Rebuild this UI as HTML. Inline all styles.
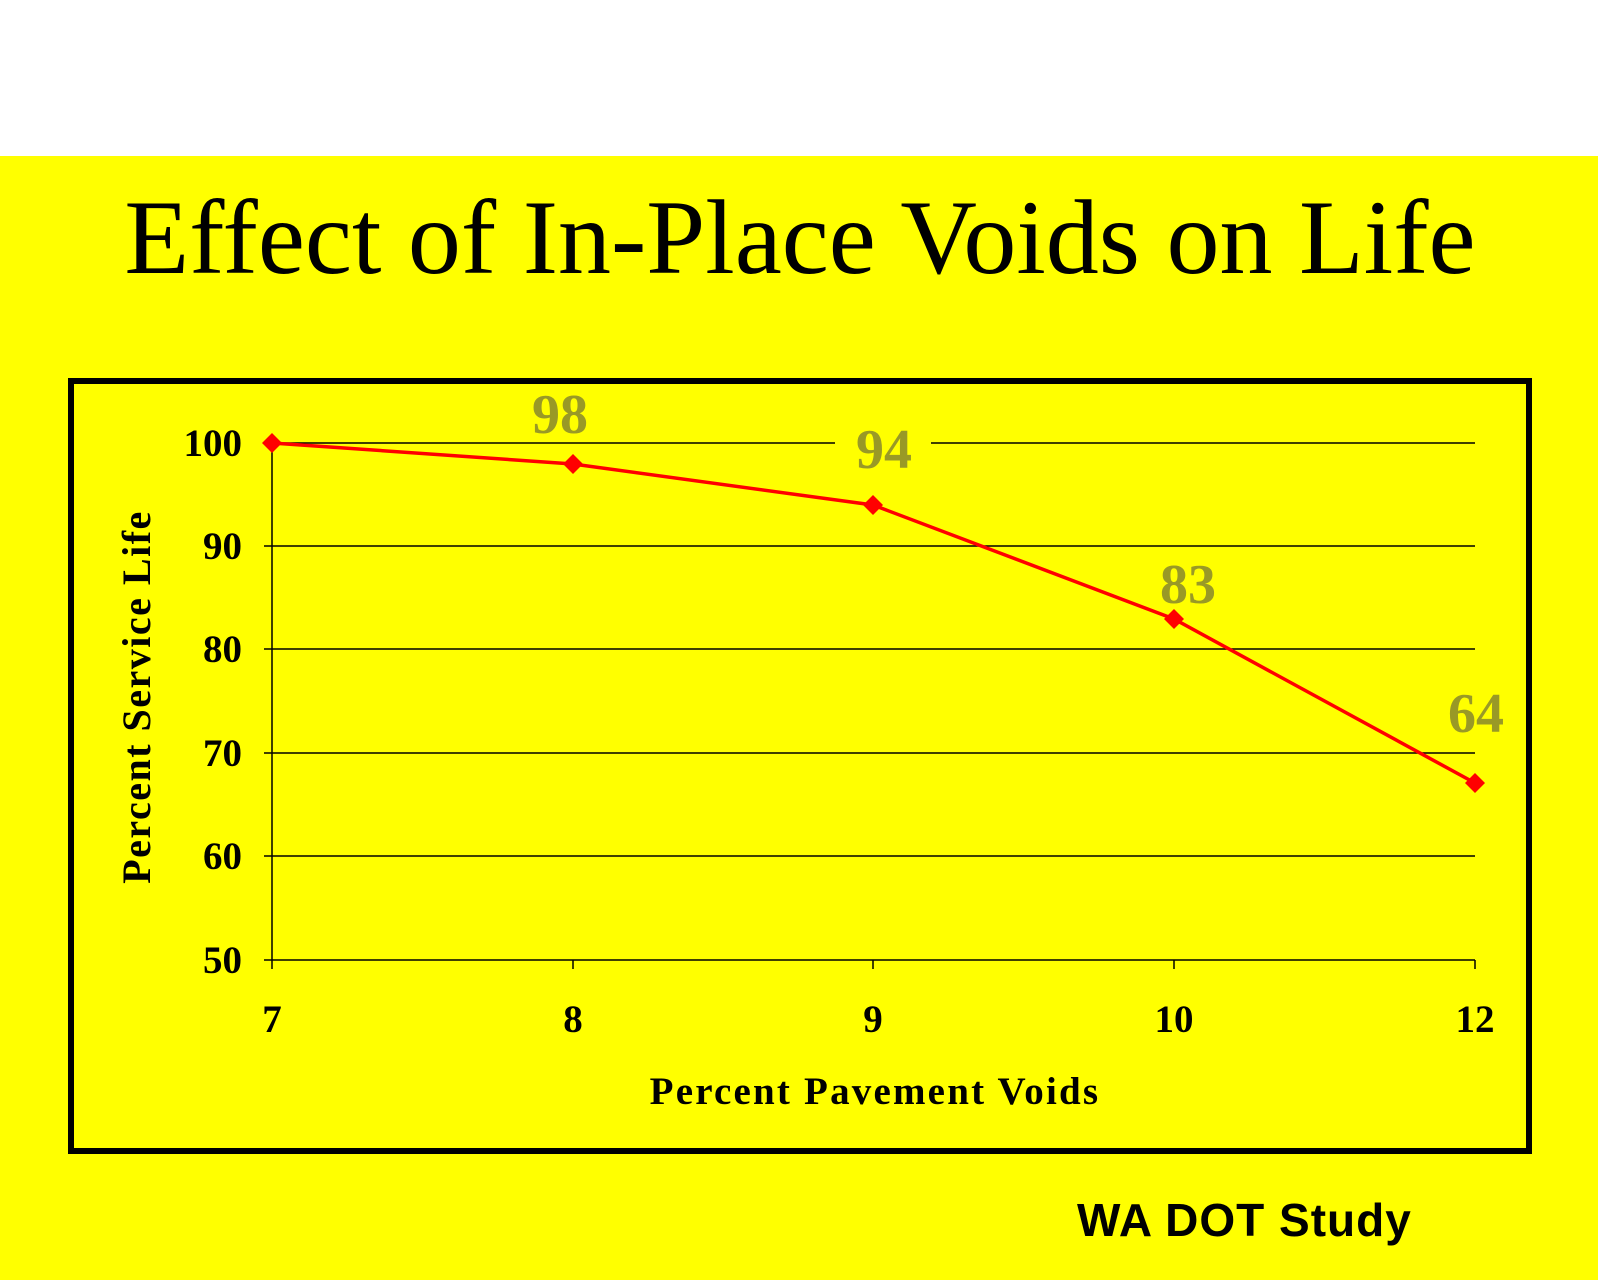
<!DOCTYPE html>
<html><head><style>
body{margin:0;width:1600px;height:1280px;background:#fff;overflow:hidden}
</style></head><body>
<svg width="1600" height="1280" xmlns="http://www.w3.org/2000/svg">
<rect x="0" y="156" width="1598" height="1124" fill="#ffff00"/>
<text x="800" y="273" font-family="Liberation Serif, serif" font-size="106" text-anchor="middle" fill="#000">Effect of In-Place Voids on Life</text>
<rect x="71" y="381" width="1458" height="770" fill="none" stroke="#000" stroke-width="6"/>
<g stroke="#000" stroke-width="1.5">
<line x1="264" y1="443" x2="835" y2="443"/><line x1="931" y1="443" x2="1475" y2="443"/>
<line x1="264" y1="546" x2="1475" y2="546"/>
<line x1="264" y1="649" x2="1475" y2="649"/>
<line x1="264" y1="753" x2="1475" y2="753"/>
<line x1="264" y1="856" x2="1475" y2="856"/>
<line x1="264" y1="960" x2="1475" y2="960"/>
<line x1="272" y1="443" x2="272" y2="960"/>
<line x1="272" y1="960" x2="272" y2="969"/><line x1="573" y1="960" x2="573" y2="969"/><line x1="873" y1="960" x2="873" y2="969"/><line x1="1174" y1="960" x2="1174" y2="969"/><line x1="1475" y1="960" x2="1475" y2="969"/>
</g>
<g font-family="Liberation Serif, serif" font-weight="bold" font-size="39" fill="#000" text-anchor="end">
<text x="242" y="456">100</text><text x="242" y="559">90</text><text x="242" y="662">80</text><text x="242" y="766">70</text><text x="242" y="869">60</text><text x="242" y="973">50</text>
</g>
<g font-family="Liberation Serif, serif" font-weight="bold" font-size="39" fill="#000" text-anchor="middle">
<text x="272" y="1032">7</text><text x="573" y="1032">8</text><text x="873" y="1032">9</text><text x="1174" y="1032">10</text><text x="1475" y="1032">12</text>
<text x="875" y="1104" font-size="39" letter-spacing="2.2">Percent Pavement Voids</text>
<text transform="translate(150,697) rotate(-90)" font-size="40" letter-spacing="1.5">Percent Service Life</text>
</g>
<polyline points="272,443 573,464 873,505 1174,619 1475,783" fill="none" stroke="#ff0000" stroke-width="3.5"/>
<g fill="#ff0000">
<path d="M272,433 l10,10 -10,10 -10,-10z"/><path d="M573,454 l10,10 -10,10 -10,-10z"/><path d="M873,495 l10,10 -10,10 -10,-10z"/><path d="M1174,609 l10,10 -10,10 -10,-10z"/><path d="M1475,773 l10,10 -10,10 -10,-10z"/>
</g>
<g font-family="Liberation Serif, serif" font-weight="bold" font-size="56" fill="#999926" text-anchor="middle">
<text x="560" y="433">98</text><text x="884" y="468">94</text><text x="1188" y="603">83</text><text x="1476" y="732">64</text>
</g>
<text x="1077" y="1236" font-family="Liberation Sans, sans-serif" font-weight="bold" font-size="46" letter-spacing="1" fill="#000">WA DOT Study</text>
</svg>
</body></html>
